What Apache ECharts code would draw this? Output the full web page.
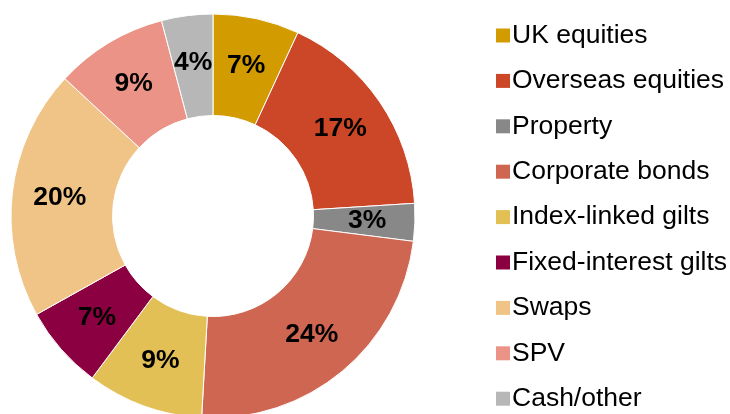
<!DOCTYPE html>
<html>
<head>
<meta charset="utf-8">
<script src="https://cdn.jsdelivr.net/npm/echarts@6/dist/echarts.min.js"></script>
<style>
html,body{margin:0;padding:0;background:#fff;}
#chart{width:730px;height:414px;}
</style>
</head>
<body>
<div id="chart"></div>
<script>
const categories = ['UK equities','Overseas equities','Property','Corporate bonds','Index-linked gilts','Fixed-interest gilts','Swaps','SPV','Cash/other'];
const values = [6.9, 17.1, 3.0, 23.9, 9.3, 6.7, 20.0, 9.0, 4.1];
const colors = ['#D29B00','#CC4628','#888888','#CF6651','#E2C056','#8B0041','#F0C487','#EC9388','#B7B7B7'];

const chart = echarts.init(document.getElementById('chart'), null, {renderer:'canvas'});
const data = categories.map((c,i)=>({name:c, value:values[i], itemStyle:{color:colors[i]}}));
chart.setOption({
  animation:false,
  backgroundColor:'#fff',
  legend:{
    orient:'vertical',
    left:491,
    top:17,
    height:800,
    itemWidth:14,
    itemHeight:14,
    itemGap:18.4,
    icon:'rect',
    itemStyle:{borderWidth:0},
    textStyle:{fontFamily:'Liberation Sans, Arial, sans-serif', fontSize:26.5, lineHeight:26, color:'#000', padding:[0,0,0,-3]},
    data:categories
  },
  series:[{
    type:'pie',
    center:[213,216],
    radius:[100.5,202],
    startAngle:90,
    clockwise:true,
    avoidLabelOverlap:false,
    itemStyle:{borderColor:'#fff', borderWidth:1},
    label:{
      show:true,
      position:'inside',
      formatter:p=>Math.round(p.value)+'%',
      fontFamily:'Liberation Sans, Arial, sans-serif',
      fontWeight:'bold',
      fontSize:26.5,
      color:'#000'
    },
    labelLine:{show:false},
    emphasis:{disabled:true},
    data:data
  }]
});
</script>
</body>
</html>
